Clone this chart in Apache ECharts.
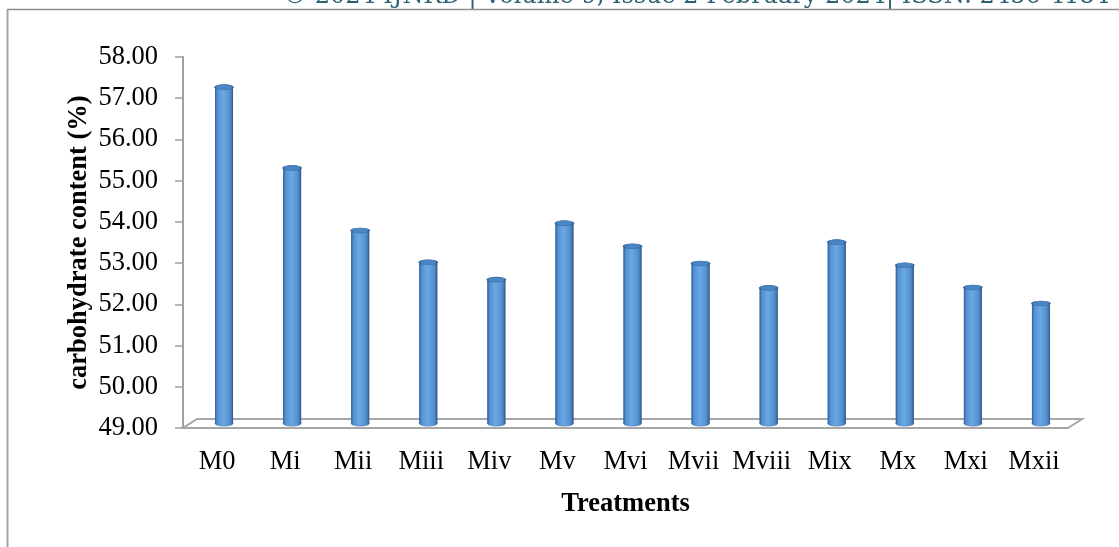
<!DOCTYPE html>
<html>
<head>
<meta charset="utf-8">
<title>Carbohydrate content by treatment</title>
<script src="https://cdn.jsdelivr.net/npm/echarts@6/dist/echarts.min.js"></script>
<style>
  html, body { margin: 0; padding: 0; background: #ffffff; }
  #chart { width: 1119px; height: 547px; }
</style>
</head>
<body>
<div id="chart"></div>
<script>
// Treatments along the horizontal axis
const categories = ['M0', 'Mi', 'Mii', 'Miii', 'Miv', 'Mv', 'Mvi', 'Mvii', 'Mviii', 'Mix', 'Mx', 'Mxi', 'Mxii'];
// Carbohydrate content (%) per treatment
const carbohydrate = [57.16, 55.20, 53.68, 52.91, 52.49, 53.86, 53.30, 52.88, 52.29, 53.40, 52.84, 52.30, 51.91];
// Value axis range and step
const yMin = 49;
const yMax = 58;
const yStep = 1;

const headerText = '\u00A9 2024 IJNRD | Volume 9, Issue 2 February 2024| ISSN: 2456-4184';

// Oblique depth of the floor (front edge -> back edge)
const DEPTH_X = 14;
const DEPTH_Y = -9;

const serif = '"Liberation Serif", "Times New Roman", serif';
const FONT_SIZE = 26.5;

const chart = echarts.init(document.getElementById('chart'), null, { renderer: 'canvas' });

// Cylinder body gradient: dark rims, light centre
function bodyFill() {
  return new echarts.graphic.LinearGradient(0, 0, 1, 0, [
    { offset: 0, color: '#3b6ca5' },
    { offset: 0.15, color: '#5592d2' },
    { offset: 0.45, color: '#69a9e6' },
    { offset: 0.8, color: '#5690d0' },
    { offset: 1, color: '#39669b' }
  ]);
}

function renderCylinder(params, api) {
  const idx = api.value(0);
  const val = api.value(1);
  const top = api.coord([idx, val]);
  const base = api.coord([idx, yMin]);
  const w = 18;
  const rx = w / 2;
  const ryScale = 0.28;
  return {
    type: 'group',
    children: [
      {
        type: 'circle',
        x: base[0], y: base[1], scaleY: ryScale,
        shape: { cx: 0, cy: 0, r: rx },
        style: { fill: bodyFill(), stroke: '#3a6a9f', lineWidth: 1 }
      },
      {
        type: 'rect',
        shape: { x: base[0] - rx, y: top[1], width: w, height: base[1] - top[1] },
        style: { fill: bodyFill() }
      },
      {
        type: 'line',
        shape: { x1: base[0] - rx + 0.5, y1: top[1], x2: base[0] - rx + 0.5, y2: base[1] },
        style: { stroke: '#3c6aa0', lineWidth: 1 }
      },
      {
        type: 'line',
        shape: { x1: base[0] + rx - 0.5, y1: top[1], x2: base[0] + rx - 0.5, y2: base[1] },
        style: { stroke: '#365f92', lineWidth: 1 }
      },
      {
        type: 'circle',
        x: top[0], y: top[1], scaleY: ryScale,
        shape: { cx: 0, cy: 0, r: rx },
        style: { fill: '#4a85c4', stroke: '#3a6aa0', lineWidth: 2 }
      }
    ]
  };
}

function renderFloor(params, api) {
  const cs = params.coordSys;
  const x0 = cs.x;
  const x1 = cs.x + cs.width;
  const y0 = api.coord([0, yMin])[1];
  return {
    type: 'polygon',
    shape: {
      points: [
        [x0, y0], [x1, y0], [x1 + DEPTH_X, y0 + DEPTH_Y], [x0 + DEPTH_X, y0 + DEPTH_Y]
      ]
    },
    style: { fill: '#ffffff', stroke: '#a6a6a6', lineWidth: 2 }
  };
}

const gridLeft = 183;
const gridTop = 57;
const gridWidth = 885;
const gridHeight = 371;

const option = {
  backgroundColor: '#ffffff',
  animation: false,
  grid: [
    { left: gridLeft, top: gridTop, width: gridWidth, height: gridHeight },
    { left: gridLeft + DEPTH_X / 2, top: gridTop + DEPTH_Y / 2, width: gridWidth, height: gridHeight }
  ],
  xAxis: [
    {
      gridIndex: 0,
      type: 'category',
      data: categories,
      axisLine: { show: false },
      axisTick: { show: false },
      axisLabel: { color: '#000', fontFamily: serif, fontSize: FONT_SIZE, margin: 21, interval: 0 },
      name: 'Treatments',
      nameLocation: 'middle',
      nameGap: 63,
      nameMoveOverlap: false,
      nameTextStyle: { color: '#000', fontFamily: serif, fontSize: FONT_SIZE, fontWeight: 'bold' }
    },
    {
      gridIndex: 1,
      type: 'category',
      data: categories,
      show: false
    }
  ],
  yAxis: [
    {
      gridIndex: 0,
      type: 'value',
      min: yMin,
      max: yMax,
      interval: yStep,
      axisLine: { show: true, lineStyle: { color: '#a0a0a0', width: 2 } },
      axisTick: { show: true, length: 8, lineStyle: { color: '#a0a0a0', width: 1.5 } },
      splitLine: { show: false },
      axisLabel: {
        color: '#000', fontFamily: serif, fontSize: FONT_SIZE, margin: 25,
        formatter: v => v.toFixed(2)
      },
      name: 'carbohydrate content (%)',
      nameLocation: 'middle',
      nameRotate: 90,
      nameGap: 90,
      nameMoveOverlap: false,
      nameTextStyle: { color: '#000', fontFamily: serif, fontSize: FONT_SIZE, fontWeight: 'bold' }
    },
    {
      gridIndex: 1,
      type: 'value',
      min: yMin,
      max: yMax,
      interval: yStep,
      show: false
    }
  ],
  series: [
    {
      type: 'custom',
      name: 'floor',
      xAxisIndex: 0,
      yAxisIndex: 0,
      clip: false,
      silent: true,
      z: 1,
      renderItem: renderFloor,
      data: [[0, yMin]]
    },
    {
      type: 'custom',
      name: 'carbohydrate content (%)',
      xAxisIndex: 1,
      yAxisIndex: 1,
      clip: false,
      z: 2,
      renderItem: renderCylinder,
      data: carbohydrate.map((v, i) => [i, v])
    }
  ],
  graphic: [
    {
      type: 'text',
      z: 10,
      style: {
        x: 283, y: -3.5,
        text: headerText,
        font: '24px "DejaVu Serif", serif',
        fill: '#2b6274',
        verticalAlign: 'middle'
      }
    },
    {
      type: 'line',
      z: 11,
      shape: { x1: 7, y1: 9.5, x2: 1119, y2: 9.5 },
      style: { stroke: '#8f8f8f', lineWidth: 1.5 }
    },
    {
      type: 'line',
      z: 11,
      shape: { x1: 7.5, y1: 9.5, x2: 7.5, y2: 547 },
      style: { stroke: '#a6a6a6', lineWidth: 2 }
    }
  ]
};

chart.setOption(option);
</script>
</body>
</html>
